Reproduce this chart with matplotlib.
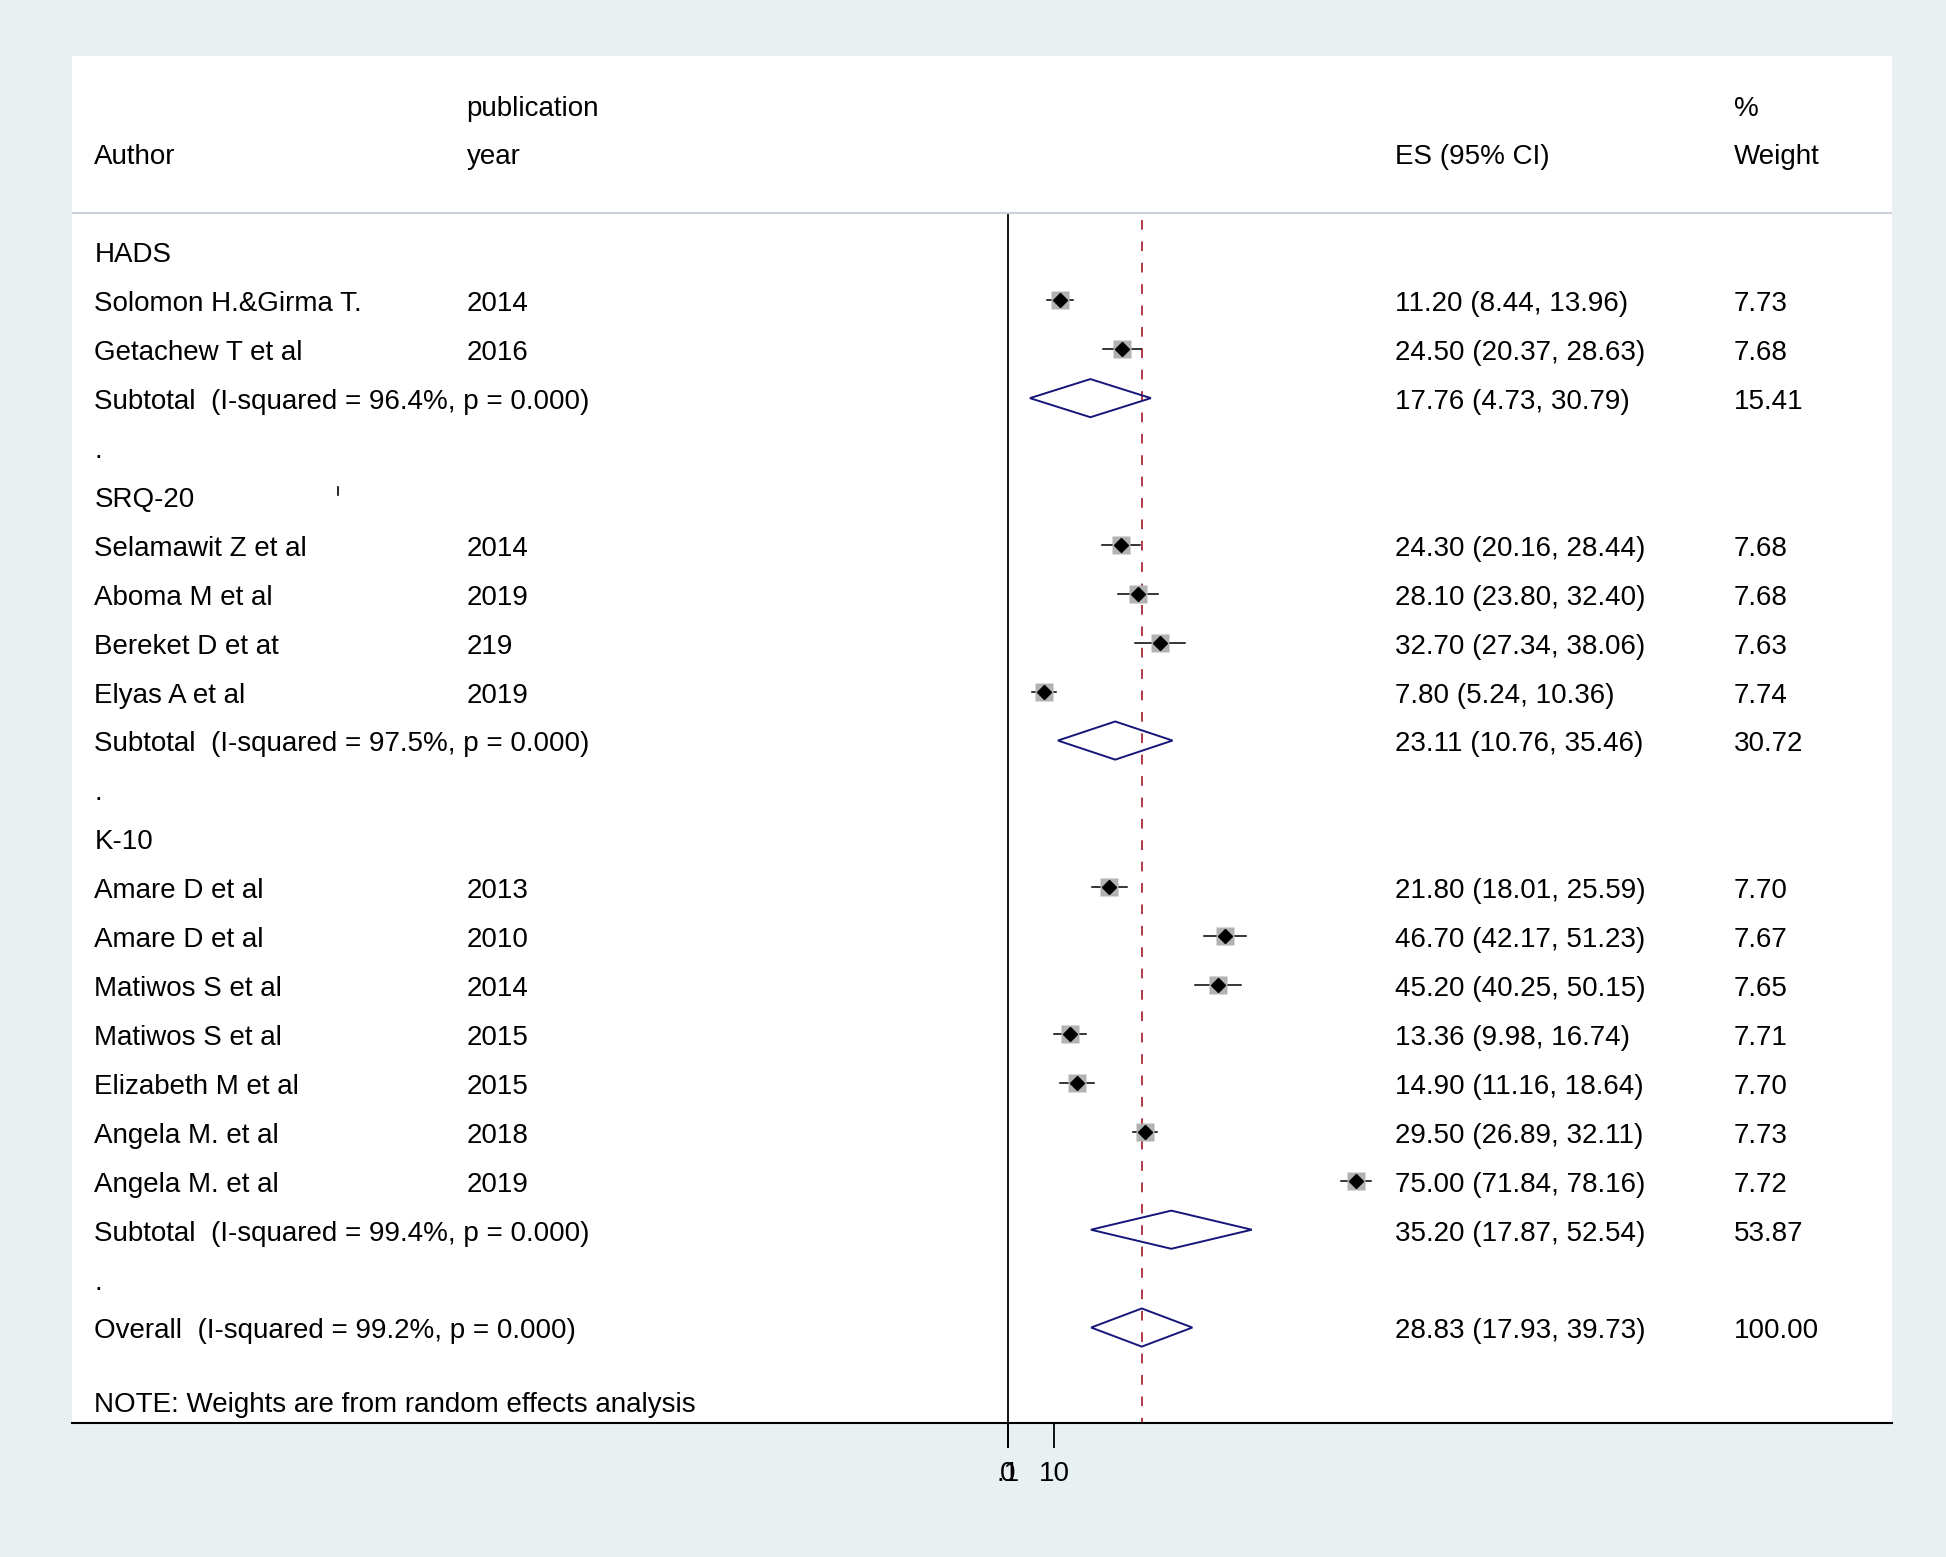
import matplotlib
matplotlib.use("Agg")
from matplotlib import pyplot as plt
from matplotlib.transforms import blended_transform_factory
from matplotlib.patches import Polygon

plt.rcParams['font.family'] = ['Liberation Sans', 'DejaVu Sans']

# study rows
authors = ["Solomon H.&Girma T.", "Getachew T et al",
           "Selamawit Z et al", "Aboma M et al", "Bereket D et at", "Elyas A et al",
           "Amare D et al", "Amare D et al", "Matiwos S et al", "Matiwos S et al",
           "Elizabeth M et al", "Angela M. et al", "Angela M. et al"]
years = ["2014", "2016", "2014", "2019", "219", "2019",
         "2013", "2010", "2014", "2015", "2015", "2018", "2019"]
es = [11.20, 24.50, 24.30, 28.10, 32.70, 7.80,
      21.80, 46.70, 45.20, 13.36, 14.90, 29.50, 75.00]
lo = [8.44, 20.37, 20.16, 23.80, 27.34, 5.24,
      18.01, 42.17, 40.25, 9.98, 11.16, 26.89, 71.84]
hi = [13.96, 28.63, 28.44, 32.40, 38.06, 10.36,
      25.59, 51.23, 50.15, 16.74, 18.64, 32.11, 78.16]
weights = [7.73, 7.68, 7.68, 7.68, 7.63, 7.74,
           7.70, 7.67, 7.65, 7.71, 7.70, 7.73, 7.72]
study_group = [0, 0, 1, 1, 1, 1, 2, 2, 2, 2, 2, 2, 2]

# subgroup pooled results
groups = ["HADS", "SRQ-20", "K-10"]
sub_i2 = ["96.4%", "97.5%", "99.4%"]
sub_es = [17.76, 23.11, 35.20]
sub_lo = [4.73, 10.76, 17.87]
sub_hi = [30.79, 35.46, 52.54]
sub_w = [15.41, 30.72, 53.87]

overall = (28.83, 17.93, 39.73)
overall_i2 = "99.2%"

tick_vals = [0, 0.1, 10]
tick_labels = ["0", ".1", "10"]

fs = 20
navy = "#16167a"

fig = plt.figure(figsize=(19.46, 15.57), dpi=100, facecolor="#e8f0f2")
ax = fig.add_axes([0.0370, 0.0858, 0.9350, 0.8784])
ax.set_facecolor("white")
ax.set_xlim(-201.7, 190.4)
ax.set_ylim(23.96, -4.0)
for s in ["top", "left", "right"]:
    ax.spines[s].set_visible(False)
ax.spines["bottom"].set_linewidth(1.5)
ax.set_yticks([])
ax.set_xticks(tick_vals)
ax.set_xticklabels(tick_labels, fontsize=fs)
ax.tick_params(axis="x", length=18, width=1.3, pad=9)

tr = blended_transform_factory(ax.transAxes, ax.transData)
cx = [0.0123, 0.2169, 0.7271, 0.9134]

def put(x, y, s):
    # small nudge so the text sits like the Stata output
    ax.text(x, y + 0.08, s, transform=tr, fontsize=fs, va="center")

# header
put(cx[1], -3, "publication")
put(cx[0], -2, "Author")
put(cx[1], -2, "year")
put(cx[2], -2, "ES (95% CI)")
put(cx[3], -3, "%")
put(cx[3], -2, "Weight")
ax.axhline(-0.79, color="#c9d1da", lw=1.5)

# reference lines
ax.plot([0, 0], [-0.79, 23.96], color="black", lw=1.3, zorder=1)
ax.plot([overall[0], overall[0]], [-0.65, 23.96], color="#b03a48", lw=1.4,
        dashes=(5, 6), zorder=1)

row = 0
for g in range(len(groups)):
    put(cx[0], row, groups[g])
    row += 1
    for i in range(len(authors)):
        if study_group[i] != g:
            continue
        ax.plot([lo[i], hi[i]], [row, row], color="black", lw=1.1, zorder=2)
        ax.plot(es[i], row, marker="s", color="#b2b2b2", mec="none",
                ms=13.5 * (weights[i] / 7.7) ** 0.5, zorder=2)
        ax.plot(es[i], row, marker="D", color="black", ms=7.2, zorder=3)
        put(cx[0], row, authors[i])
        put(cx[1], row, years[i])
        put(cx[2], row, f"{es[i]:.2f} ({lo[i]:.2f}, {hi[i]:.2f})")
        put(cx[3], row, f"{weights[i]:.2f}")
        row += 1
    ax.add_patch(Polygon([[sub_lo[g], row], [sub_es[g], row - 0.39],
                          [sub_hi[g], row], [sub_es[g], row + 0.39]],
                         closed=True, fill=False, edgecolor=navy, lw=1.4, zorder=3))
    put(cx[0], row, f"Subtotal  (I-squared = {sub_i2[g]}, p = 0.000)")
    put(cx[2], row, f"{sub_es[g]:.2f} ({sub_lo[g]:.2f}, {sub_hi[g]:.2f})")
    put(cx[3], row, f"{sub_w[g]:.2f}")
    row += 1
    put(cx[0], row, ".")
    row += 1

# overall
ax.add_patch(Polygon([[overall[1], row], [overall[0], row - 0.39],
                      [overall[2], row], [overall[0], row + 0.39]],
                     closed=True, fill=False, edgecolor=navy, lw=1.4, zorder=3))
put(cx[0], row, f"Overall  (I-squared = {overall_i2}, p = 0.000)")
put(cx[2], row, f"{overall[0]:.2f} ({overall[1]:.2f}, {overall[2]:.2f})")
put(cx[3], row, "100.00")

put(cx[0], row + 1.5, "NOTE: Weights are from random effects analysis")

# small stray mark next to SRQ-20
ax.plot([0.146, 0.146], [4.82, 4.97], transform=tr, color="black", lw=1.2)

fig.savefig("out.png", dpi=100, facecolor=fig.get_facecolor())
